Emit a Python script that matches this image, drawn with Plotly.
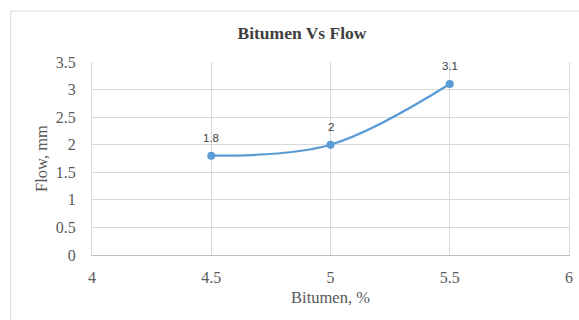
import plotly.graph_objects as go

bitumen = [4.5, 5.0, 5.5]
flow = [1.8, 2.0, 3.1]
labels = ["1.8", "2", "3.1"]
x_ticks = [4, 4.5, 5, 5.5, 6]
x_tick_text = ["4", "4.5", "5", "5.5", "6"]
y_ticks = [0, 0.5, 1, 1.5, 2, 2.5, 3, 3.5]
y_tick_text = ["0", "0.5", "1", "1.5", "2", "2.5", "3", "3.5"]

serif = "Liberation Serif, Times New Roman, serif"

W, H = 579, 320
L, R, T, B = 92, 6, 62, 65
pw, ph = W - L - R, H - T - B

fig = go.Figure()
fig.add_trace(go.Scatter(
    x=bitumen, y=flow, mode="lines+markers",
    line=dict(color="#5B9BD5", width=2.25, shape="spline", smoothing=1),
    marker=dict(color="#5B9BD5", size=8),
    cliponaxis=False, showlegend=False, hoverinfo="skip",
))

annotations = [
    dict(x=xv, y=yv, text=t, showarrow=False, xanchor="center", yanchor="middle", yshift=18,
         font=dict(family="Liberation Sans, Arial, sans-serif", size=11.5, color="#404040"))
    for xv, yv, t in zip(bitumen, flow, labels)
]

fig.update_layout(
    width=W, height=H,
    margin=dict(l=L, r=R, t=T, b=B),
    paper_bgcolor="white", plot_bgcolor="white",
    title=dict(text="<b>Bitumen Vs Flow</b>", x=302 / W, xanchor="center",
               y=1 - 33 / H, yanchor="middle",
               font=dict(family=serif, size=17.5, color="#404040")),
    xaxis=dict(range=[4, 6], tickvals=x_ticks, ticktext=x_tick_text,
               showgrid=True, gridcolor="#D9D9D9", gridwidth=1,
               showline=True, linecolor="#BFBFBF", linewidth=1, zeroline=False,
               ticks="", ticklabelstandoff=8, ticklabeloverflow="allow",
               tickfont=dict(family=serif, size=16, color="#595959"),
               title=dict(text="Bitumen, %", font=dict(family=serif, size=16.5, color="#595959"), standoff=6)),
    yaxis=dict(range=[0, 3.5], tickvals=y_ticks, ticktext=y_tick_text,
               showgrid=True, gridcolor="#D9D9D9", gridwidth=1,
               showline=True, linecolor="#D9D9D9", mirror=True, zeroline=False,
               ticks="", ticklabelstandoff=12,
               tickfont=dict(family=serif, size=16, color="#595959"),
               title=dict(text="Flow, mm", font=dict(family=serif, size=16.5, color="#595959"), standoff=4)),
    annotations=annotations,
    shapes=[dict(type="rect", xref="paper", yref="paper",
                 x0=(10 - L) / pw, x1=1.2, y0=-0.5, y1=(H - B - 11) / ph,
                 line=dict(color="#D9D9D9", width=1), layer="below")],
)

# remove the default 8px page margin so the figure fills the window exactly
fig.write_html("out.html", config={"displayModeBar": False},
               post_script="document.body.style.margin='0';document.body.style.overflow='hidden';")
